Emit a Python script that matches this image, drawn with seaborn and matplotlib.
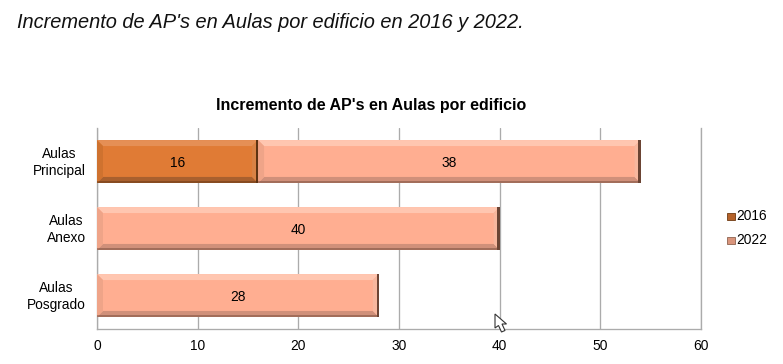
import matplotlib
matplotlib.use("Agg")
import matplotlib.pyplot as plt
from matplotlib.patches import Polygon, Rectangle
from matplotlib.transforms import IdentityTransform, Affine2D
import pandas as pd
import seaborn as sns

sns.set_theme(style="white")
plt.rcParams['font.family'] = ['Liberation Sans', 'DejaVu Sans']

# ---- data
categories = ["Aulas\nPrincipal", "Aulas\nAnexo", "Aulas\nPosgrado"]
values_2016 = [16, 0, 0]
values_2022 = [38, 40, 28]
x_ticks = [0, 10, 20, 30, 40, 50, 60]
page_heading = "Incremento de AP's en Aulas por edificio en 2016 y 2022."
chart_title = "Incremento de AP's en Aulas por edificio"

W, H = 783, 364
fig = plt.figure(figsize=(W / 100, H / 100), dpi=100, facecolor="white")
L, R, T, B = 97, 701, 128, 329
ax = fig.add_axes([L / W, 1 - B / H, (R - L) / W, (B - T) / H])

C16 = "#E07B35"
C22 = "#FFAE91"
GRID = "#ABABAB"

df = pd.DataFrame({
    "cat": categories,
    "y2016": values_2016,
    "y2022": values_2022,
})
df["total"] = df["y2016"] + df["y2022"]

ax.set_axisbelow(True)
# stacked: total behind, first series over it
sns.barplot(data=df, y="cat", x="total", color=C22, width=0.64, saturation=1,
            orient="h", ax=ax, linewidth=0, zorder=2)
n_total = len(ax.patches)
sns.barplot(data=df, y="cat", x="y2016", color=C16, width=0.64, saturation=1,
            orient="h", ax=ax, linewidth=0, zorder=3)

ax.set_xlim(0, 60)
ax.set_ylim(2.5, -0.5)
ax.set_xticks(x_ticks)
ax.set_xticklabels([str(t) for t in x_ticks], fontsize=9.9, color="black")
ax.set_xlabel("")
ax.set_ylabel("")
ax.tick_params(axis="x", length=0, pad=7)
ax.tick_params(axis="y", length=0, pad=8, labelsize=9.9, labelcolor="black")
for lab in ax.get_yticklabels():
    lab.set_horizontalalignment("right")
    lab.set_multialignment("center")
    lab.set_linespacing(1.3)
    lab.set_transform(lab.get_transform() + Affine2D().translate(0, 2.5))
ax.xaxis.grid(True, color=GRID, linewidth=0.95, zorder=0)
ax.yaxis.grid(False)
for name in ["left", "right", "bottom", "top"]:
    ax.spines[name].set_visible(name != "top")
    ax.spines[name].set_color(GRID)
    ax.spines[name].set_linewidth(0.95)

fig.canvas.draw()


def bevel(x0, x1, y0, y1, light, left, right, dark, side, z, b=6):
    t = IdentityTransform()
    ax.add_patch(Polygon([(x0, y1), (x1, y1), (x1 - b, y1 - b), (x0 + b, y1 - b)],
                         closed=True, fc=light, ec="none", transform=t, zorder=z))
    ax.add_patch(Polygon([(x0, y0), (x1, y0), (x1 - b, y0 + b), (x0 + b, y0 + b)],
                         closed=True, fc=dark, ec="none", transform=t, zorder=z))
    ax.add_patch(Polygon([(x0, y0), (x0 + b, y0 + b), (x0 + b, y1 - b), (x0, y1)],
                         closed=True, fc=left, ec="none", transform=t, zorder=z))
    ax.add_patch(Polygon([(x1, y0), (x1 - b, y0 + b), (x1 - b, y1 - b), (x1, y1)],
                         closed=True, fc=right, ec="none", transform=t, zorder=z))
    ax.add_patch(Rectangle((x1 - 2.2, y0), 2.2, y1 - y0, fc=side, ec="none",
                           transform=t, zorder=z + 0.1))
    ax.add_patch(Rectangle((x0, y0), x1 - x0, 1.5, fc=side, ec="none", alpha=0.45,
                           transform=t, zorder=z + 0.1))


total_patches = ax.patches[:n_total]
front_patches = ax.patches[n_total:n_total + len(categories)]
for i, (p, f) in enumerate(zip(total_patches, front_patches)):
    ext = p.get_window_extent()
    fext = f.get_window_extent()
    x16 = fext.x1
    if values_2022[i] > 0:
        bevel(x16, ext.x1, ext.y0, ext.y1, "#FFC6B0", "#EFA488", "#F7B79E", "#D0907A",
              "#6B4434", 4)
    if values_2016[i] > 0:
        bevel(ext.x0, x16, ext.y0, ext.y1, "#E58F55", "#CF722F", "#D98245", "#A9602E",
              "#5E3312", 4)
    yc = (ext.y0 + ext.y1) / 2 - 1.5
    if values_2016[i] > 0:
        ax.text((ext.x0 + x16) / 2, yc, str(values_2016[i]), transform=IdentityTransform(),
                ha="center", va="center", fontsize=9.9, color="black", zorder=6)
    ax.text((x16 + ext.x1) / 2, yc, str(values_2022[i]), transform=IdentityTransform(),
            ha="center", va="center", fontsize=9.9, color="black", zorder=6)

# headings
fig.text(17 / W, 1 - 22 / H, page_heading, fontsize=14.4, style="italic",
         ha="left", va="center", color="#111111")
fig.text(371 / W, 1 - 105.5 / H, chart_title, fontsize=11.55, fontweight="bold",
         ha="center", va="center", color="black")

# legend
for label, col, dk, yp in [("2016", "#B5622A", "#6E3A12", 216), ("2022", "#D9957C", "#8E6350", 240)]:
    fig.patches.append(Rectangle((727 / W, 1 - (yp + 3.5) / H), 8 / W, 7 / H, fc=col, ec=dk,
                                 lw=0.6, transform=fig.transFigure))
    fig.text(736 / W, 1 - yp / H, label, fontsize=9.9, ha="left", va="center", color="black")

# mouse pointer present in the screenshot
cursor = [(495, 314), (495, 328), (498.5, 325.5), (501.5, 332), (505, 330.5), (502, 324), (506.5, 324)]
fig.patches.append(Polygon([(x / W, 1 - y / H) for x, y in cursor], closed=True, fc="white",
                           ec="#333333", lw=0.8, transform=fig.transFigure, zorder=10))

fig.savefig("out.png", dpi=100, facecolor="white")
